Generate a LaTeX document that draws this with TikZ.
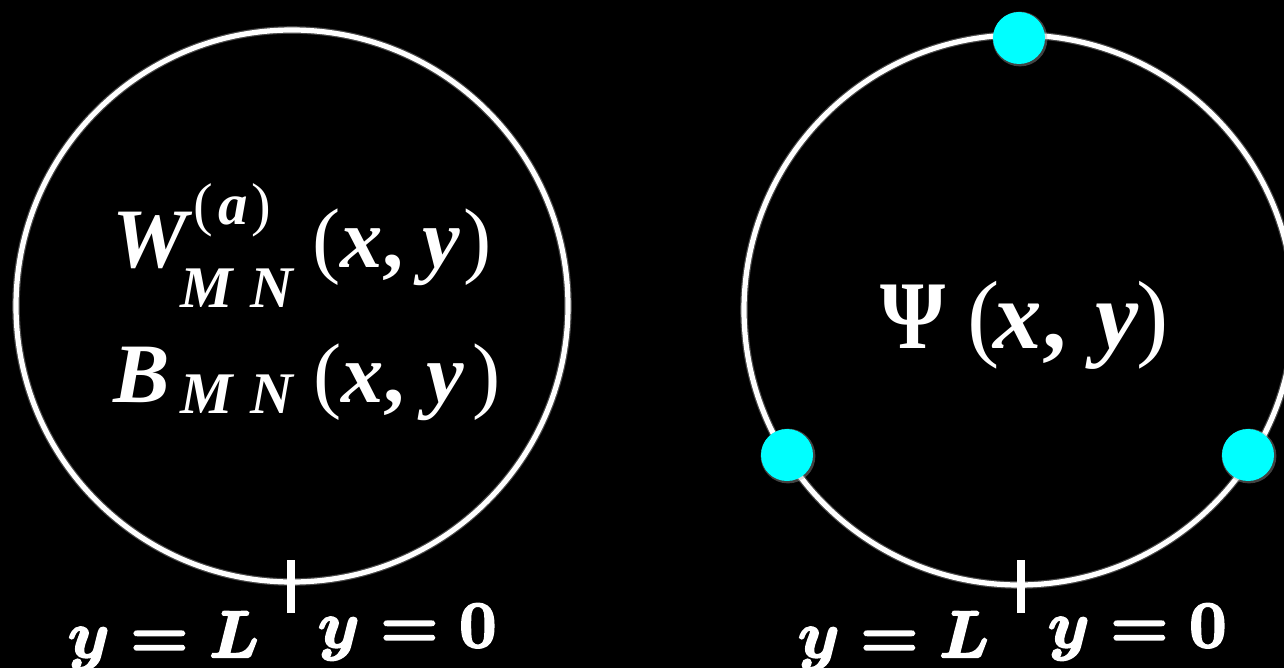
\RequirePackage{fix-cm}
\documentclass[tikz,border=0pt]{standalone}
\usepackage{amsmath}
\usepackage[no-math]{fontspec}
\newfontfamily\tms{Liberation Serif}
\definecolor{aqua}{RGB}{0,255,255}
\newcommand{\heavy}[1]{\special{pdf:literal direct 1 1 1 RG 2 Tr 1.1 w}#1\special{pdf:literal direct 0 Tr}}
\begin{document}
\begin{tikzpicture}[x=0.5pt,y=-0.5pt,
  glow/.style={draw=gray!60, line width=3.8pt, opacity=0.4},
  ring/.style={draw=white, line width=2.6pt},
  tickline/.style={draw=white, line width=4pt},
  dot/.style={circle, fill=aqua, minimum size=26pt, inner sep=0pt},
  dotglow/.style={circle, fill=gray!70, opacity=0.4, minimum size=27.4pt, inner sep=0pt},
  txt/.style={text=white, inner sep=0pt, outer sep=0pt, anchor=base west},
  big/.style={txt, font=\tms\fontsize{42.3}{50}\selectfont},
  small/.style={txt, font=\tms\fontsize{29.5}{35}\selectfont},
  psi/.style={txt, font=\tms\fontsize{48.5}{56}\selectfont},
  lab/.style={txt, font=\fontsize{33}{40}\selectfont\boldmath}]
\path[use as bounding box, fill=black] (0,0) rectangle (1284,668);

% left circle
\coordinate (cL) at (292,306);
\draw[glow] (cL) circle[radius=276];
\draw[ring] (cL) circle[radius=276];
\coordinate (tL1) at (291,560);
\coordinate (tL2) at (291,613);
\draw[glow] (tL1) -- (tL2);
\draw[tickline] (tL1) -- (tL2);

% right circle
\coordinate (cR) at (1019,310);
\draw[glow] (cR) circle[radius=275];
\draw[ring] (cR) circle[radius=275];
\coordinate (tR1) at (1021,560);
\coordinate (tR2) at (1021,613);
\draw[glow] (tR1) -- (tR2);
\draw[tickline] (tR1) -- (tR2);

% dots
\node[dotglow] (g1) at (1020,39) {};
\node[dotglow] (g2) at (788,456) {};
\node[dotglow] (g3) at (1249,456) {};
\node[dot] (d1) at (1019,38) {};
\node[dot] (d2) at (787,455) {};
\node[dot] (d3) at (1248,455) {};

% left texts
\node[big] (W) at (112,268) {\bfseries\itshape W};
\node[small] (Wsup) at (193,225) {(\kern0.1em\bfseries\itshape a\/\kern0.06em\mdseries\upshape)};
\node[small] (Wsub) at (180,307) {\bfseries\itshape M\kern0.3em N};
\node[big] (Wxy) at (312,268) {(\bfseries\itshape x\upshape,\kern0.22em\itshape y\kern0.04em\mdseries\upshape)};
\node[big] (B) at (113,402) {\bfseries\itshape B};
\node[small] (Bsub) at (180,413) {\bfseries\itshape M\kern0.3em N};
\node[big] (Bxy) at (313,402) {(\bfseries\itshape x\upshape,\kern0.26em\itshape y\kern0.1em\mdseries\upshape)};

% right text
\node[psi] (Psi) at (880,348) {\bfseries\upshape\scalebox{0.86}[1]{Ψ}\kern0.23em\mdseries(\bfseries\itshape\kern-0.06em x\upshape,\kern0.3em\itshape y\kern-0.02em\mdseries\upshape)};

% bottom labels
\node[lab] (yLl) at (68,657) {\heavy{$y=L$}};
\node[lab] (y0l) at (318,647) {\heavy{$y=0$}};
\node[lab] (yLr) at (798,657) {\heavy{$y=L$}};
\node[lab] (y0r) at (1048,647) {\heavy{$y=0$}};
\end{tikzpicture}
\end{document}
